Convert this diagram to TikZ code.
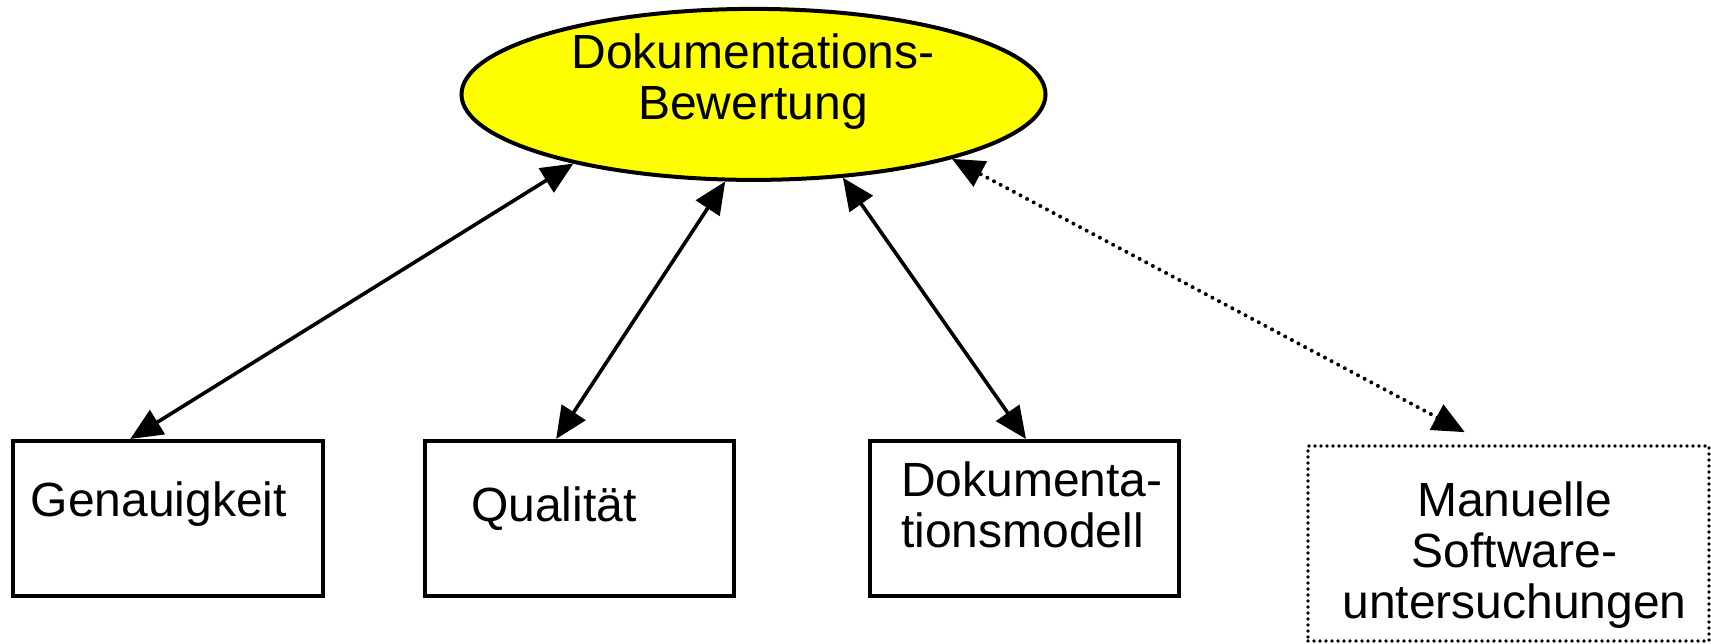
\documentclass[tikz,border=0pt]{standalone}
\usepackage{fontspec}
\setmainfont{Liberation Sans}
\usetikzlibrary{arrows.meta,shapes.geometric,calc}
\definecolor{evalyellow}{RGB}{255,255,0}
\begin{document}
\begin{tikzpicture}[x=1pt,y=-1pt,
  lbl/.style={inner sep=0pt,font=\fontsize{48}{51}\selectfont},
  boxn/.style={draw,line width=4pt,inner sep=0pt,minimum height=155pt},
  dotbox/.style={draw,line width=3.6pt,line cap=round,dash pattern=on 0pt off 6pt,inner sep=0pt},
  conn/.style={line width=3.6pt,{Triangle[length=32pt,width=28pt]}-{Triangle[length=32pt,width=28pt]}},
  dotconn/.style={conn,line width=4pt,line cap=round,dash pattern=on 0pt off 7.5pt}]
\useasboundingbox (0,0) rectangle (1711,644);
% central ellipse
\node (e) [ellipse,draw,line width=4pt,fill=evalyellow,inner sep=0pt,
  minimum width=584pt,minimum height=171pt] at (753.5,94.4) {};
\node (et) [lbl,align=center] at (753,82) {Dokumentations-\\Bewertung};
% boxes
\node (g) [boxn,minimum width=310pt] at (168,518.5) {};
\node (q) [boxn,minimum width=309pt] at (579,518.5) {};
\node (d) [boxn,minimum width=309pt] at (1024,518.5) {};
\node (m) [dotbox,minimum width=401pt,minimum height=195pt] at (1508.5,543.5) {};
% texts
\node (gt) [lbl,anchor=base west] at (30.5,516) {Genauigkeit};
\node (qt) [lbl,anchor=base west] at (471,521.6) {Qualität};
\node (dt) [lbl,anchor=west,align=left] at (901,504.6) {Dokumenta-\\tionsmodell};
\node (mt) [lbl,align=center] at (1514.6,555) {Manuelle\\Software-\\untersuchungen};
% connectors
\draw[conn] ($(g.north west)!0.38!(g.north east)$) -- (e.201.2);
\draw[conn] ($(q.north west)!0.427!(q.north east)$) -- (e.252.1);
\draw[conn] ($(d.north)+(2,0)$) -- (e.317.5);
\draw[dotconn] ($(m.north west)!0.392!(m.north east)+(0,-12)$) -- (e.342.3);
\end{tikzpicture}
\end{document}
